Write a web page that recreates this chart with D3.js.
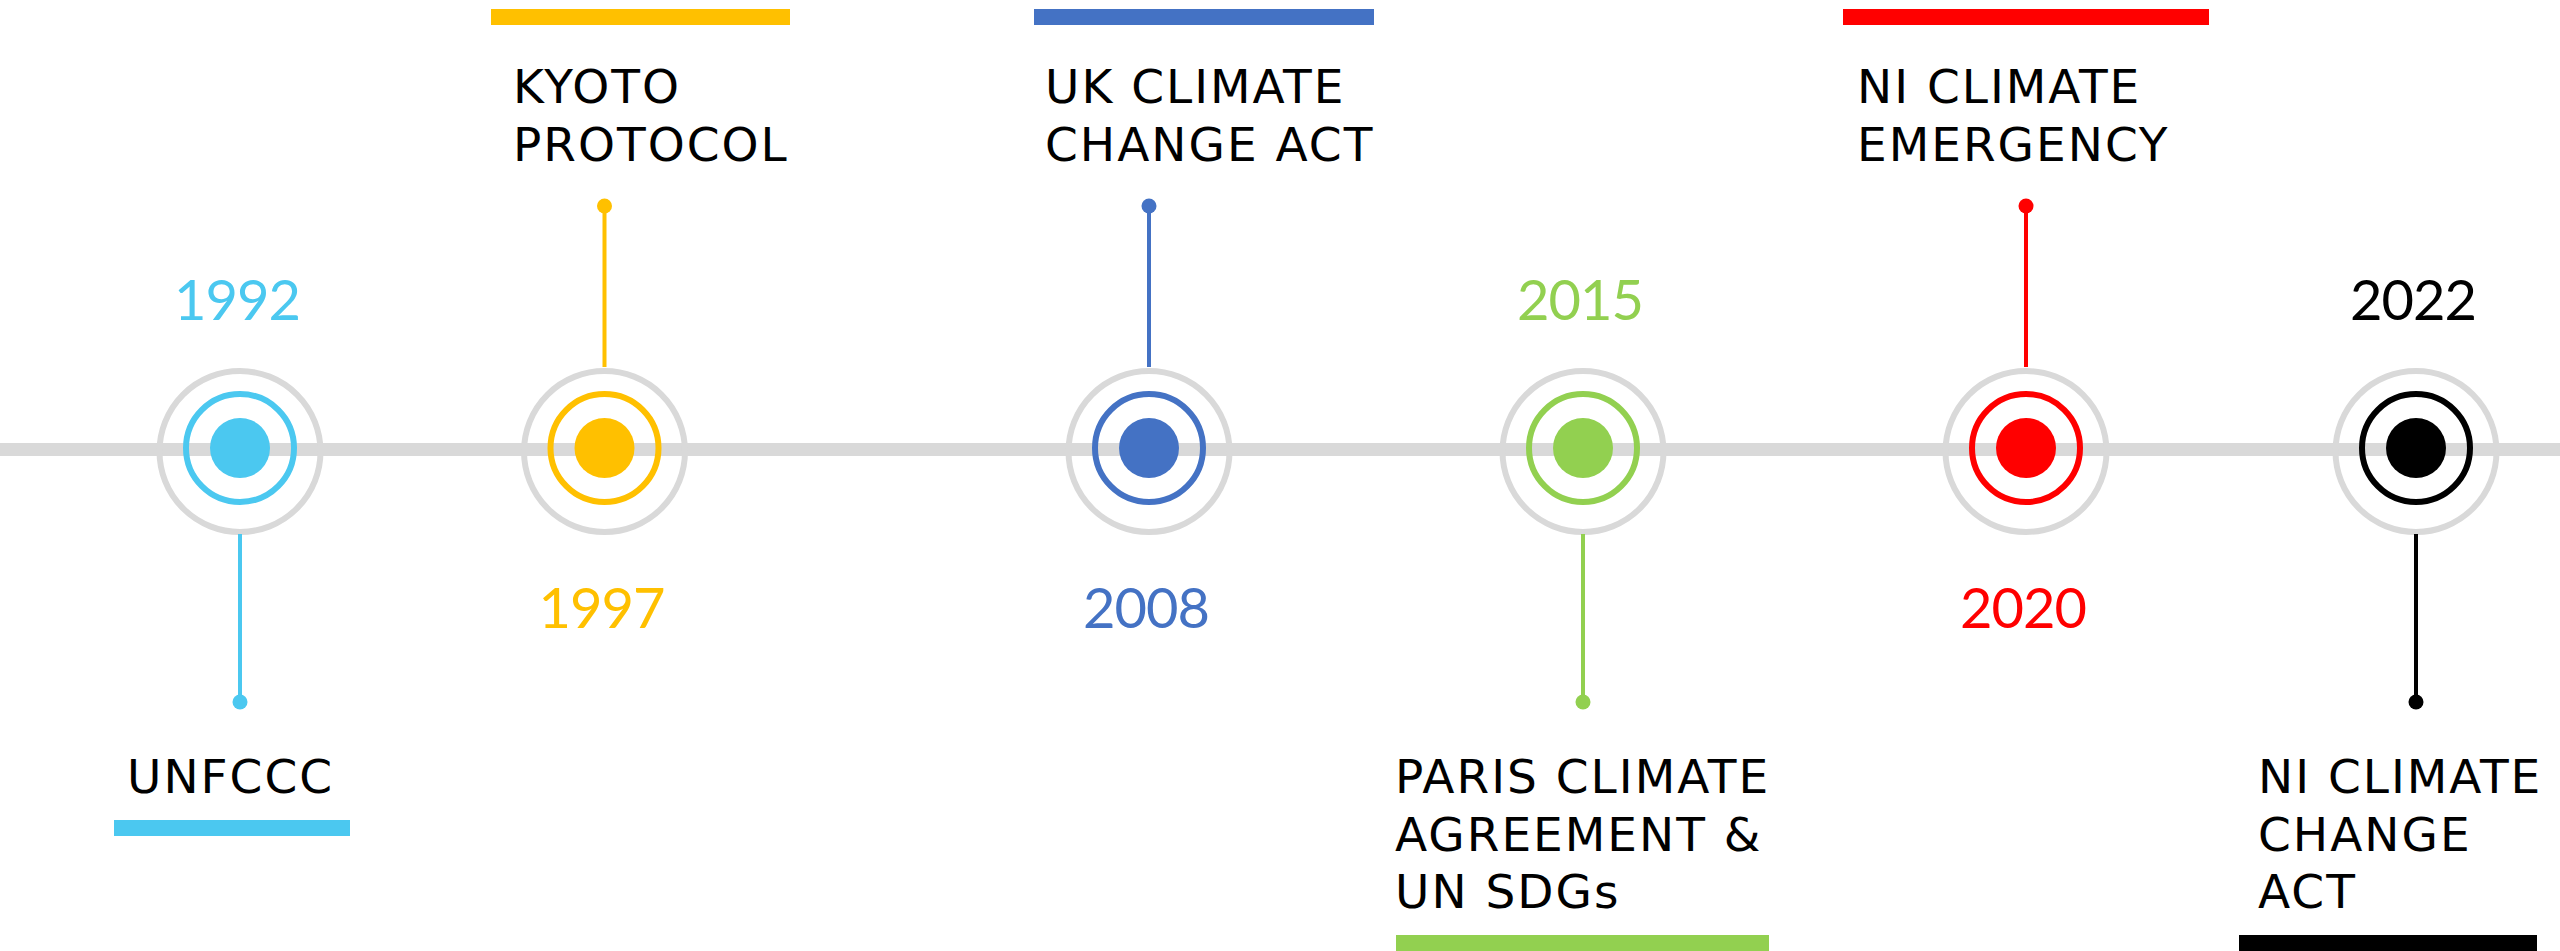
<!DOCTYPE html>
<html><head><meta charset="utf-8">
<script src="https://cdn.jsdelivr.net/npm/d3@7"></script>
<style>html,body{margin:0;padding:0;background:#fff;overflow:hidden}</style>
</head><body>
<svg id="chart" width="2560" height="951"></svg>
<script>
// ---- data ----
const years = ["1992", "1997", "2008", "2015", "2020", "2022"];
const eventLabels = [
  ["UNFCCC"],
  ["KYOTO", "PROTOCOL"],
  ["UK CLIMATE", "CHANGE ACT"],
  ["PARIS CLIMATE", "AGREEMENT &", "UN SDGs"],
  ["NI CLIMATE", "EMERGENCY"],
  ["NI CLIMATE", "CHANGE", "ACT"]
];
const labelSides = ["below", "above", "above", "below", "above", "below"];
const eventColors = ["#4bc8f0", "#ffc000", "#4472c4", "#92d050", "#ff0000", "#000000"];

// ---- layout ----
const W = 2560, H = 951;
const x = d3.scaleLinear()
  .domain(years.map(Number))
  .range([240, 604.5, 1149, 1583, 2026, 2416]);
const labelDx = [-113, -91.5, -104, -188, -169, -158];
const barDx = [[-126, 110], [-113.5, 185.5], [-115, 225], [-187, 186], [-183, 183], [-177, 121]];

const cy = 448, grayDy = 3.5;
const rGray = 80.5, rRing = 54, rDot = 30;
const lineH = 57.5;

const svg = d3.select("#chart");

// main timeline
svg.append("line")
  .attr("x1", 0).attr("x2", W)
  .attr("y1", 449.5).attr("y2", 449.5)
  .attr("stroke", "#d9d9d9").attr("stroke-width", 13);

const ev = svg.selectAll("g.ev")
  .data(years.map((y, i) => ({year: y, lines: eventLabels[i], side: labelSides[i], color: eventColors[i], i})))
  .join("g").attr("class", "ev")
  .attr("transform", d => `translate(${x(+d.year)},0)`);

// rings
ev.append("circle").attr("cx", 0).attr("cy", cy + grayDy).attr("r", rGray)
  .attr("fill", "none").attr("stroke", "#d9d9d9").attr("stroke-width", 6);
ev.append("circle").attr("cx", 0).attr("cy", cy).attr("r", rRing)
  .attr("fill", "none").attr("stroke", d => d.color).attr("stroke-width", 6);
ev.append("circle").attr("cx", 0).attr("cy", cy).attr("r", rDot)
  .attr("fill", d => d.color);

// stems
const stemEnd = d => d.side === "above" ? 206 : 702;
const stemStart = d => d.side === "above" ? cy + grayDy - rGray - 4 : cy + grayDy + rGray + 2;
ev.append("line")
  .attr("x1", 0).attr("x2", 0)
  .attr("y1", stemStart).attr("y2", stemEnd)
  .attr("stroke", d => d.color).attr("stroke-width", 4);
ev.append("circle").attr("cx", 0).attr("cy", stemEnd).attr("r", 7.5)
  .attr("fill", d => d.color);

// year labels
ev.append("text")
  .attr("x", -3)
  .attr("y", d => d.side === "above" ? 628 : 320)
  .attr("text-anchor", "middle")
  .attr("font-family", "Lato, 'Open Sans', sans-serif")
  .attr("font-size", 56)
  .attr("letter-spacing", -1)
  .attr("fill", d => d.color)
  .text(d => d.year);

// event labels
const firstBase = d => d.side === "above" ? 103 : 793;
ev.each(function(d) {
  const g = d3.select(this);
  const t = g.append("text")
    .attr("font-family", "'DejaVu Sans', sans-serif")
    .attr("font-size", 47)
    .attr("letter-spacing", 2)
    .attr("fill", "#000");
  d.lines.forEach((ln, k) => {
    t.append("tspan")
      .attr("x", labelDx[d.i])
      .attr("y", firstBase(d) + k * lineH)
      .text(ln);
  });
  const barY = d.side === "above" ? 9 : firstBase(d) + (d.lines.length - 1) * lineH + 27;
  g.append("rect")
    .attr("x", barDx[d.i][0])
    .attr("width", barDx[d.i][1] - barDx[d.i][0])
    .attr("y", barY).attr("height", 16)
    .attr("fill", d.color);
});
</script>
</body></html>
